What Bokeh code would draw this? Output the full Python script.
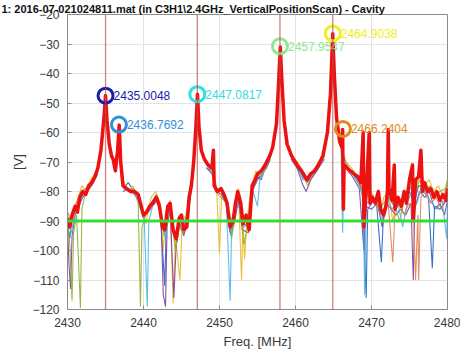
from bokeh.plotting import figure
from bokeh.models import Range1d, SingleIntervalTicker, ColumnDataSource, Span
from bokeh.embed import file_html
from bokeh.resources import INLINE

# ---------------- data ----------------
title_text = "1: 2016-07-021024811.mat (in C3H1\\2.4GHz_VerticalPositionScan) - Cavity"

red_f = [2430.0, 2430.3, 2430.6, 2431.0, 2431.3, 2431.6, 2432.0, 2432.4, 2432.8, 2433.2,
         2433.6, 2434.0, 2434.4, 2434.8, 2435.0, 2435.2, 2435.5, 2435.8, 2436.0, 2436.3,
         2436.6, 2436.8, 2437.0, 2437.3, 2437.8, 2438.3, 2438.8, 2439.3, 2439.7, 2440.0,
         2440.4, 2440.8, 2441.2, 2441.7, 2442.1, 2442.5, 2442.8, 2443.2, 2443.5, 2443.9,
         2444.3, 2444.7, 2445.0, 2445.3, 2445.7, 2446.0, 2446.3, 2446.6, 2446.9, 2447.1,
         2447.3, 2447.6, 2448.0, 2448.5, 2449.0, 2449.2, 2449.3, 2449.7, 2450.2, 2450.6,
         2451.0, 2451.4, 2451.8, 2452.1, 2452.4, 2452.8, 2453.1, 2453.5, 2453.9, 2454.3,
         2454.7, 2455.0, 2455.5, 2456.0, 2456.6, 2457.0, 2457.5, 2457.8, 2458.0, 2458.2,
         2458.5, 2458.9, 2459.5, 2460.2, 2460.8, 2461.5, 2462.0, 2462.5, 2463.0, 2463.6,
         2464.2, 2464.6, 2464.9, 2465.1, 2465.4, 2465.8, 2466.1, 2466.2, 2466.3, 2466.4,
         2466.8, 2467.2, 2467.7, 2468.2, 2468.6, 2468.9, 2469.0, 2469.3, 2469.7, 2469.8,
         2470.1, 2470.5, 2470.9, 2471.2, 2471.6, 2471.9, 2472.1, 2472.2, 2472.3, 2472.7,
         2473.0, 2473.1, 2473.5, 2473.9, 2474.3, 2474.6, 2475.0, 2475.4, 2475.5, 2475.8,
         2476.2, 2476.5, 2476.7, 2477.0, 2477.4, 2477.8, 2478.2, 2478.6, 2479.0, 2479.4,
         2479.8, 2480.0]
red_v = [-89, -92, -88, -85, -87, -82, -80, -81, -78, -77,
         -75, -72, -66, -55, -47.5, -56, -64, -68, -69, -73,
         -66, -57.5, -70, -78, -79, -80, -80, -81, -85, -88,
         -87, -85, -84, -82, -85, -92, -93, -85, -84, -93,
         -96, -89, -88, -93, -92, -82, -78, -70, -58, -47,
         -58, -66, -69, -71, -72, -66, -78, -80, -79, -81,
         -84, -92, -90, -84, -80, -84, -91, -88, -93, -78,
         -76, -74, -73, -71, -68, -65, -57, -42, -31, -42,
         -56, -64, -68, -71, -73, -76, -74, -73, -71, -68,
         -60, -47, -26.5, -40, -55, -63, -65, -59, -86, -71,
         -72, -73, -74, -75, -77, -60, -92, -80, -60, -84,
         -82, -84, -80, -86, -88, -85, -80, -59, -79, -83,
         -71, -86, -82, -85, -80, -84, -76, -71, -90, -76,
         -75, -66, -80, -77, -80, -79, -82, -80, -83, -81,
         -83, -79]

# background traces (segments between the resonance peaks)
blue_segs = [
    ([2430, 2430.3, 2430.5, 2431, 2431.5, 2432, 2432.5, 2433, 2433.5, 2434],
     [-91, -96, -90, -86, -84, -81, -79, -78, -76, -73]),
    ([2437.3, 2438, 2438.5, 2439, 2439.5, 2440, 2440.5, 2441, 2441.7, 2442.2, 2442.8, 2443.0, 2443.4, 2444, 2444.4, 2444.8, 2445.4, 2446, 2446.3],
     [-79, -77, -79, -80, -84, -89, -86, -84, -81, -87, -112, -90, -85, -94, -97, -90, -92, -82, -78]),
    ([2448.3, 2449, 2449.5, 2450.2, 2450.8, 2451.4, 2451.9, 2452.4, 2453, 2453.6, 2454.2, 2455, 2455.5, 2456, 2456.7],
     [-72, -73, -79, -80, -83, -94, -89, -81, -90, -92, -80, -75, -76, -72, -68]),
    ([2459.4, 2460.2, 2461, 2461.5, 2462.2, 2463, 2463.8],
     [-67, -72, -75, -77, -75, -72, -67]),
    ([2466, 2466.5, 2467.5, 2468.3, 2468.8, 2469.3, 2469.5, 2470, 2470.6, 2471.3, 2471.6, 2472.3, 2473, 2473.6, 2474.3, 2475, 2475.6, 2476.2, 2477, 2477.5, 2478, 2478.3, 2479, 2479.6, 2480],
     [-66, -71, -74, -77, -80, -116, -86, -84, -82, -104, -86, -82, -85, -84, -83, -80, -84, -78, -79, -82, -106, -85, -86, -84, -80]),
]
yellow_segs = [
    ([2430, 2430.4, 2430.8, 2431.4, 2431.9, 2432.5, 2433, 2433.6, 2434],
     [-88, -93, -86, -82, -78, -80, -76, -74, -72]),
    ([2437.3, 2438, 2438.6, 2439.2, 2439.8, 2440.3, 2441, 2441.6, 2442.2, 2442.6, 2443.0, 2443.5, 2443.9, 2444.2, 2444.8, 2445.1, 2445.6, 2446, 2446.3],
     [-76, -80, -78, -82, -86, -91, -82, -80, -84, -100, -86, -83, -118, -95, -110, -90, -88, -80, -77]),
    ([2448.3, 2449, 2449.6, 2450, 2450.3, 2450.9, 2451.5, 2452, 2452.5, 2452.9, 2453.1, 2453.3, 2453.6, 2454.2, 2454.8, 2455.3, 2456, 2456.7],
     [-70, -72, -78, -101, -80, -82, -90, -86, -79, -110, -90, -103, -90, -78, -73, -75, -71, -67]),
    ([2459.4, 2460.3, 2461, 2461.6, 2462.3, 2463, 2463.8],
     [-68, -70, -74, -78, -74, -70, -68]),
    ([2466, 2466.6, 2467.4, 2468.2, 2468.8, 2469.4, 2470, 2470.6, 2471.2, 2471.6, 2472.2, 2472.8, 2473.4, 2474, 2474.6, 2475.2, 2475.8, 2476.4, 2477, 2477.6, 2478.2, 2478.8, 2479.4, 2480],
     [-64, -70, -72, -76, -79, -82, -80, -84, -88, -82, -80, -90, -82, -86, -80, -74, -80, -72, -78, -76, -80, -78, -82, -77]),
]
purple_segs = [
    ([2430, 2430.2, 2430.4, 2430.6, 2431, 2431.5, 2432, 2432.6, 2433.2, 2434],
     [-92, -105, -113, -95, -88, -85, -82, -80, -78, -74]),
    ([2437.3, 2438, 2438.8, 2439.4, 2440, 2440.6, 2441.2, 2441.8, 2442.3, 2442.6, 2442.9, 2443.1, 2443.5, 2444, 2444.3, 2444.8, 2445.3, 2445.8, 2446.3],
     [-80, -79, -81, -83, -88, -87, -85, -83, -88, -115, -119, -92, -86, -116, -98, -91, -95, -90, -79]),
    ([2448.3, 2449, 2449.6, 2450.3, 2451, 2451.5, 2452, 2452.5, 2453, 2453.8, 2454.3, 2455, 2455.6, 2456.2, 2456.7],
     [-72, -74, -80, -81, -85, -95, -90, -83, -93, -94, -80, -76, -74, -72, -69]),
    ([2459.4, 2460.2, 2461, 2461.4, 2462, 2462.8, 2463.8],
     [-69, -72, -78, -80, -76, -73, -69]),
    ([2466, 2466.6, 2467.5, 2468.4, 2469, 2469.2, 2470, 2470.8, 2471.4, 2472, 2472.6, 2473.2, 2473.8, 2474.5, 2475.2, 2475.5, 2475.7, 2476.3, 2477, 2477.6, 2478.3, 2479, 2479.6, 2480],
     [-67, -72, -75, -79, -100, -85, -86, -84, -92, -84, -86, -88, -86, -88, -84, -110, -86, -80, -82, -80, -86, -84, -88, -83]),
]
green_segs = [
    ([2430, 2430.3, 2430.6, 2430.8, 2431.2, 2431.7, 2431.9, 2432.4, 2433, 2433.6, 2434],
     [-90, -98, -117, -94, -88, -119.5, -86, -80, -77, -75, -72]),
    ([2437.3, 2438, 2438.7, 2439.3, 2439.6, 2439.8, 2440.3, 2441, 2441.6, 2442.2, 2442.7, 2443.2, 2443.6, 2444.2, 2444.7, 2445.3, 2445.8, 2446.3],
     [-78, -80, -79, -84, -119, -92, -88, -85, -82, -86, -95, -86, -88, -100, -92, -94, -88, -79]),
    ([2448.3, 2449, 2449.5, 2450.2, 2451, 2451.6, 2452, 2452.5, 2453.2, 2453.7, 2454.3, 2455, 2455.6, 2456.2, 2456.7],
     [-71, -73, -80, -82, -84, -96, -88, -80, -98, -92, -79, -74, -75, -71, -68]),
    ([2459.4, 2460.3, 2461, 2461.7, 2462.4, 2463.1, 2463.8],
     [-68, -71, -76, -76, -74, -71, -68]),
    ([2466, 2466.7, 2467.6, 2468.4, 2469, 2469.6, 2470.3, 2471, 2471.6, 2472.3, 2473, 2473.7, 2474.4, 2475, 2475.7, 2476.3, 2477, 2477.7, 2478.4, 2479, 2479.7, 2480],
     [-66, -72, -73, -76, -84, -80, -82, -86, -84, -82, -84, -90, -82, -78, -82, -76, -80, -78, -82, -80, -79, -76]),
]
lightblue_segs = [
    ([2430, 2430.5, 2431, 2431.6, 2432.2, 2432.8, 2433.5, 2434],
     [-89, -94, -87, -83, -81, -78, -76, -73]),
    ([2437.3, 2438.2, 2439, 2439.6, 2440.1, 2440.5, 2440.7, 2441.3, 2441.9, 2442.4, 2442.9, 2443.3, 2443.8, 2444.3, 2444.8, 2445.4, 2445.9, 2446.3],
     [-79, -80, -81, -86, -90, -119, -90, -84, -83, -90, -96, -85, -92, -95, -89, -92, -85, -78]),
    ([2448.3, 2449, 2449.6, 2450.3, 2450.9, 2451.4, 2451.6, 2452.2, 2452.7, 2453.2, 2453.8, 2454.3, 2455, 2455.3, 2456, 2456.7],
     [-72, -72, -79, -80, -84, -117, -92, -84, -86, -92, -91, -79, -85, -76, -72, -68]),
    ([2459.4, 2460.2, 2461, 2461.7, 2462.4, 2463.2, 2463.8],
     [-67, -71, -76, -75, -74, -70, -67]),
    ([2466, 2466.2, 2466.4, 2467.3, 2468.2, 2468.9, 2469.1, 2469.3, 2470, 2470.7, 2471.4, 2472, 2472.7, 2473.4, 2474.1, 2474.7, 2475.3, 2476, 2476.6, 2477.3, 2478, 2478.6, 2479.3, 2479.9, 2480],
     [-65, -94, -70, -73, -77, -82, -115, -84, -83, -82, -90, -82, -86, -83, -92, -84, -80, -84, -78, -82, -84, -86, -83, -96, -82]),
]
orange_segs = [
    ([2430, 2430.6, 2431.2, 2431.8, 2432.4, 2433, 2433.6, 2434],
     [-87, -90, -84, -80, -79, -77, -75, -72]),
    ([2466, 2467, 2468, 2469, 2470, 2470.8, 2471.5, 2472.2, 2472.8, 2473.1, 2473.7, 2474.3, 2474.9, 2475.5, 2475.8, 2476.1, 2476.2, 2476.5, 2477.2, 2477.8, 2478.5, 2479.2, 2480],
     [-66, -72, -75, -80, -82, -84, -88, -84, -104, -86, -84, -88, -84, -86, -110, -88, -110, -82, -80, -84, -82, -86, -80]),
]

threshold_v = -90
vline_f = [2435.0048, 2447.0817, 2457.9547, 2464.9038]

mk_f = [2435.0048, 2436.7692, 2447.0817, 2457.9547, 2464.9038, 2466.2404]
mk_v = [-47.5, -57.3, -47.0, -30.8, -26.4, -58.8]
mk_labels = ["2435.0048", "2436.7692", "2447.0817", "2457.9547", "2464.9038", "2466.2404"]
mk_colors = ["#1c1ca8", "#3390d8", "#33dede", "#90e890", "#eeee22", "#e08a20"]

x_ticks_step = 10
y_ticks_step = 10

# ---------------- figure ----------------
FONT = "Liberation Sans"
p = figure(width=460, height=351, output_backend="svg", toolbar_location=None,
           x_range=Range1d(2430, 2480), y_range=Range1d(-120, -20),
           min_border_left=67, min_border_right=13, min_border_top=0, min_border_bottom=41)

p.title.text = title_text
p.title.text_font = FONT
p.title.text_font_size = "11px"
p.title.text_font_style = "bold"
p.title.text_color = "#111111"
p.title.align = "left"
p.title.offset = -66
p.title.standoff = 0

p.background_fill_color = "white"
p.outline_line_color = "#8a8a8a"
p.outline_line_width = 1

for ax in (p.xaxis[0], p.yaxis[0]):
    ax.major_label_text_font = FONT
    ax.major_label_text_font_size = "12px"
    ax.major_label_text_color = "#3a3a3a"
    ax.axis_label_text_font = FONT
    ax.axis_label_text_font_size = "13px"
    ax.axis_label_text_font_style = "normal"
    ax.axis_label_text_color = "#3a3a3a"
    ax.axis_line_color = "#8a8a8a"
    ax.major_tick_line_color = "#8a8a8a"
    ax.major_tick_in = 4
    ax.major_tick_out = 0
    ax.minor_tick_line_color = None
    ax.major_label_standoff = 4
    ax.axis_label_standoff = 4

p.xaxis.ticker = SingleIntervalTicker(interval=x_ticks_step)
p.yaxis.ticker = SingleIntervalTicker(interval=y_ticks_step)
p.xaxis.axis_label = "Freq. [MHz]"
p.yaxis.axis_label = "[V]"
p.yaxis.axis_label_standoff = 3

p.xgrid.grid_line_color = "#e3e3e3"
p.ygrid.grid_line_color = "#e3e3e3"

# marker frequency lines
for f in vline_f:
    p.add_layout(Span(location=f, dimension="height", line_color="#b85050",
                      line_alpha=0.7, line_width=1.3))

# background traces
for segs, col in [(blue_segs, "#1f5fc0"), (yellow_segs, "#e8b820"), (purple_segs, "#7e3f9e"),
                  (green_segs, "#8cb030"), (lightblue_segs, "#4db6e6"), (orange_segs, "#e08050")]:
    p.multi_line(xs=[s[0] for s in segs], ys=[s[1] for s in segs],
                 line_color=col, line_width=1.1, line_alpha=0.9)

# main (red) trace
p.line(red_f, red_v, line_color="#ee1111", line_width=3.5, line_join="round")

# threshold
p.add_layout(Span(location=threshold_v, dimension="width", line_color="#33dd33",
                  line_width=3))

# peak markers
msrc = ColumnDataSource(dict(x=mk_f, y=mk_v, t=mk_labels, c=mk_colors))
p.scatter("x", "y", source=msrc, marker="circle", size=15, fill_color=None,
          line_color="c", line_width=3)
p.text("x", "y", text="t", source=msrc, text_color="c", text_font_size="12px",
       text_font={"value": FONT}, text_baseline="middle", text_align="left", x_offset=8)

open("out.html", "w").write(file_html(p, INLINE))
